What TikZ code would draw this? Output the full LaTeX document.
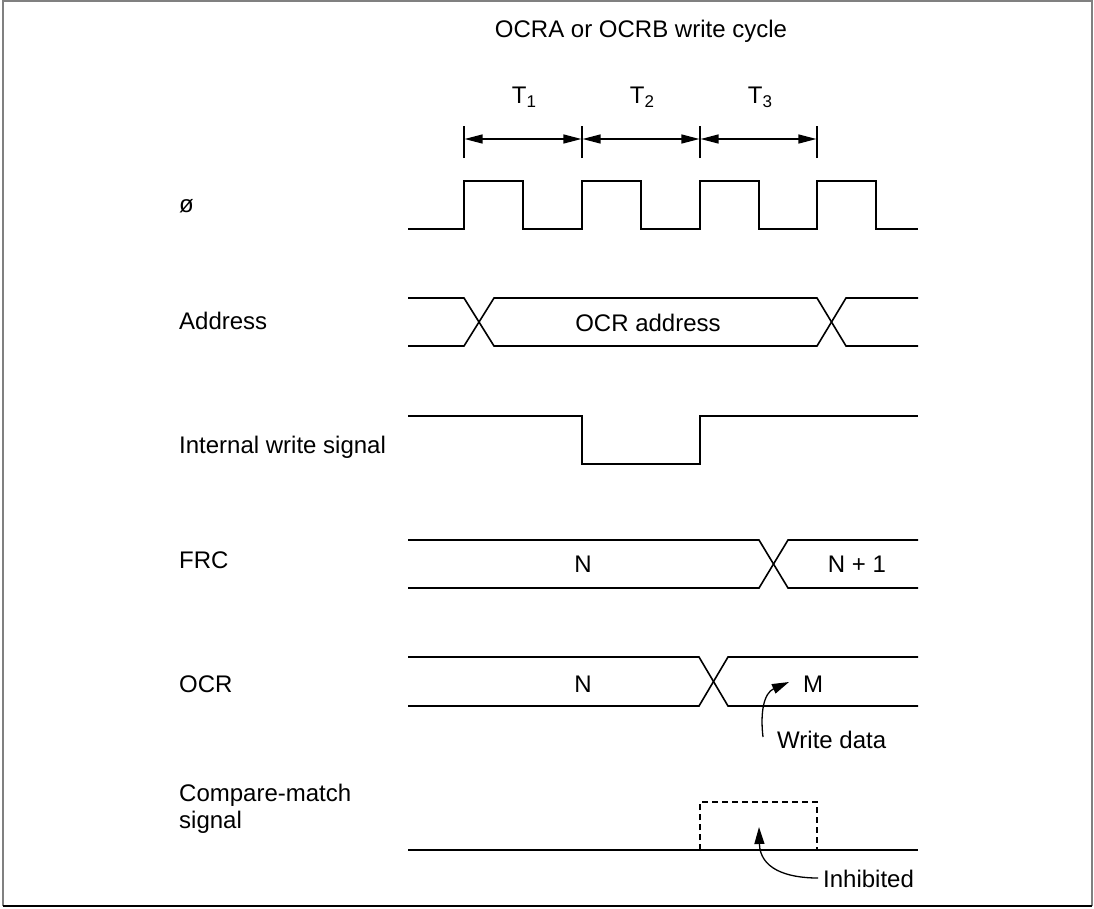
\documentclass[tikz,border=0pt]{standalone}
\usepackage{fontspec}
\setmainfont{Liberation Sans}
\usetikzlibrary{arrows.meta}
\newcommand{\tsub}[1]{\raisebox{-4pt}{\fontsize{17}{20}\selectfont #1}}
\begin{document}
\begin{tikzpicture}[x=1pt,y=-1pt,
  lbl/.style={anchor=base west, inner sep=0pt, font=\fontsize{24}{28}\selectfont},
  txt/.style={anchor=base, inner sep=0pt, font=\fontsize{24}{28}\selectfont},
  wave/.style={line width=1.6pt, line join=miter},
  dimline/.style={{Triangle[length=18pt,width=9pt]}-{Triangle[length=18pt,width=9pt]}, line width=1.3pt, shorten <=0.6pt, shorten >=0.6pt},
  tickline/.style={line width=1.3pt},
  pointer/.style={-{Triangle[length=17pt,width=10pt]}, line width=1.3pt},
  frameline/.style={line width=2pt}]
\useasboundingbox (0,0) rectangle (1094,908);
% frame
\draw[frameline, gray] (3,906) -- (3,1) -- (1092,1) -- (1092,906);
\draw[frameline, black] (3,906) -- (1092,906);

% title
\node[txt] (title) at (641,37) {OCRA or OCRB write cycle};

% period dimension
\coordinate (t0) at (464,139);
\coordinate (t1) at (582,139);
\coordinate (t2) at (700,139);
\coordinate (t3) at (817,139);
\foreach \c in {t0,t1,t2,t3}{
  \draw[tickline] ([yshift=-19pt]\c) -- ([yshift=13pt]\c);
}
\draw[dimline] (t0) -- (t1);
\draw[dimline] (t1) -- (t2);
\draw[dimline] (t2) -- (t3);
\node[txt] (T1) at (524,103) {T\tsub{1}};
\node[txt] (T2) at (642,103) {T\tsub{2}};
\node[txt] (T3) at (760,103) {T\tsub{3}};

% labels
\node[lbl] (lphi) at (179,212) {ø};
\node[lbl] (laddr) at (179,329) {Address};
\node[lbl] (lwr) at (179,453) {Internal write signal};
\node[lbl] (lfrc) at (179,568) {FRC};
\node[lbl] (locr) at (179,692) {OCR};
\node[lbl] (lcm1) at (179,801) {Compare-match};
\node[lbl] (lcm2) at (179,828) {signal};

% clock
\draw[wave] (408,229) -- (464,229) -- (464,181) -- (523,181) -- (523,229)
  -- (582,229) -- (582,181) -- (641,181) -- (641,229)
  -- (700,229) -- (700,181) -- (759,181) -- (759,229)
  -- (817,229) -- (817,181) -- (876,181) -- (876,229) -- (918,229);

% address
\draw[wave] (408,298) -- (464,298) -- (494,346) -- (817,346) -- (846,298) -- (918,298);
\draw[wave] (408,346) -- (464,346) -- (494,298) -- (817,298) -- (846,346) -- (918,346);
\node[txt] (addr) at (648,331) {OCR address};

% internal write signal
\draw[wave] (408,416) -- (582,416) -- (582,464) -- (700,464) -- (700,416) -- (918,416);

% FRC
\draw[wave] (408,540) -- (759,540) -- (788,588) -- (918,588);
\draw[wave] (408,588) -- (759,588) -- (788,540) -- (918,540);
\node[txt] (frcn) at (583,572) {N};
\node[txt] (frcn1) at (857,572) {N + 1};

% OCR
\draw[wave] (408,657) -- (699,657) -- (728,706) -- (918,706);
\draw[wave] (408,706) -- (699,706) -- (728,657) -- (918,657);
\node[txt] (ocrn) at (583,692) {N};
\node[txt] (ocrm) at (813,692) {M};
\node[lbl] (wdata) at (777,748) {Write data};
\coordinate (wdstart) at (763,737);
\coordinate (wdtip) at (789,682);
\draw[pointer] (wdstart) .. controls (760,712) and (764,693) .. (wdtip);

% compare-match
\draw[wave] (408,850) -- (918,850);
\draw[line width=1.3pt, dash pattern=on 6pt off 4pt] (700,850) -- (700,802) -- (817,802) -- (817,850);
\node[lbl] (inh) at (823,887) {Inhibited};
\coordinate (inhstart) at (818,878);
\coordinate (inhtip) at (759,827);
\draw[pointer] (inhstart) .. controls (785,878) and (760,868) .. (inhtip);
\end{tikzpicture}
\end{document}
